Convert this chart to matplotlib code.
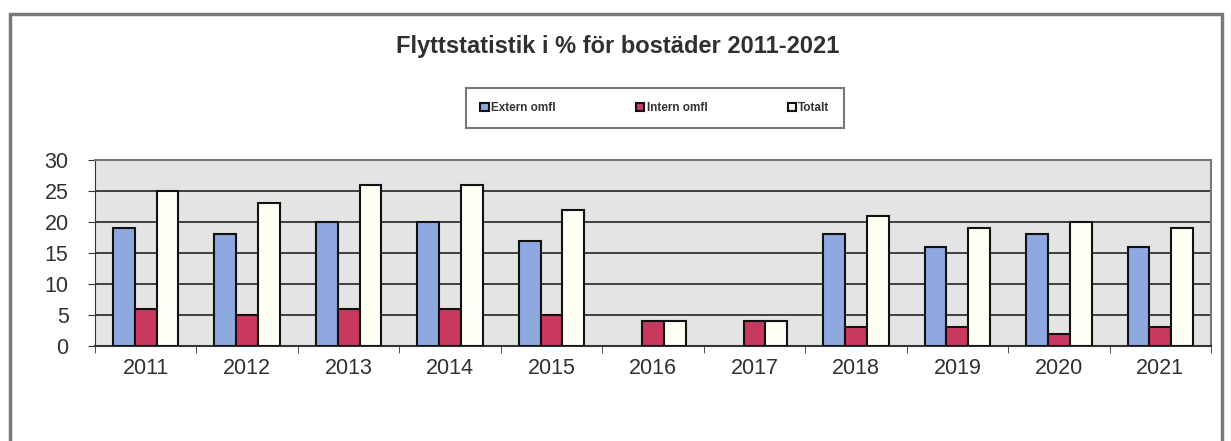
import numpy as np
import matplotlib
matplotlib.use("Agg")
import matplotlib.pyplot as plt
from matplotlib.patches import Rectangle

plt.rcParams['font.family'] = ['Liberation Sans', 'DejaVu Sans']

years = ["2011", "2012", "2013", "2014", "2015", "2016", "2017", "2018", "2019", "2020", "2021"]
extern = [19, 18, 20, 20, 17, 0, 0, 18, 16, 18, 16]
intern = [6, 5, 6, 6, 5, 4, 4, 3, 3, 2, 3]
totalt = [25, 23, 26, 26, 22, 4, 4, 21, 19, 20, 19]

fig = plt.figure(figsize=(12.31, 4.41), dpi=100)

# outer frame
fig.patches.append(Rectangle((10/1231, -0.05), 1212/1231, 1 - 14/441 + 0.05,
                             transform=fig.transFigure, fill=False,
                             edgecolor='#777a77', linewidth=2.5))

ax = fig.add_axes([95/1231, 1 - 346/441, 1116/1231, 186/441])
ax.set_facecolor('#e4e4e4')

x = np.arange(len(years))
w = 0.215
series = [(extern, -w, '#8ea8e0', 'Extern omfl'),
          (intern, 0, '#c9385f', 'Intern omfl'),
          (totalt, w, '#fffff4', 'Totalt')]
for vals, off, col, lab in series:
    lw = [1.5 if v > 0 else 0 for v in vals]
    ax.bar(x + off, vals, w, color=col, edgecolor='#111111', linewidth=lw, label=lab, zorder=3)

ax.set_xlim(-0.5, len(years) - 0.5)
ax.set_ylim(0, 30)
ax.set_yticks(range(0, 31, 5))
ax.set_xticks(x)
ax.set_xticklabels(years)
ax.set_xticks(np.arange(-0.5, len(years), 1), minor=True)
ax.tick_params(axis='x', which='major', length=0, pad=9, labelsize=15.5, labelcolor='#2e322e')
ax.tick_params(axis='x', which='minor', length=5, color='#333333', direction='out')
ax.tick_params(axis='y', length=5, pad=14, labelsize=15.5, labelcolor='#2e322e', color='#333333')
ax.grid(axis='y', color='#222222', linewidth=1.2, zorder=1)
ax.set_axisbelow(True)

for s in ['top', 'right']:
    ax.spines[s].set_color('#777777')
    ax.spines[s].set_linewidth(1.5)
ax.spines['left'].set_color('#333333')
ax.spines['bottom'].set_color('#333333')
ax.spines['bottom'].set_linewidth(1.5)

fig.text(618/1231, 1 - 47/441, "Flyttstatistik i % för bostäder 2011-2021",
         ha='center', va='center', fontsize=17, fontweight='bold', color='#2e322e')

leg = fig.legend(loc='center', bbox_to_anchor=(655/1231, 1 - 108/441), ncol=3,
                 frameon=True, fancybox=False, edgecolor='#555555',
                 handlelength=0.7, handleheight=0.7, handletextpad=0.2,
                 columnspacing=6.8, borderpad=1.2, prop={'weight': 'bold', 'size': 8.5})
leg.get_frame().set_linewidth(1.5)
for t in leg.get_texts():
    t.set_color('#333333')

fig.savefig("out.png", dpi=100)
